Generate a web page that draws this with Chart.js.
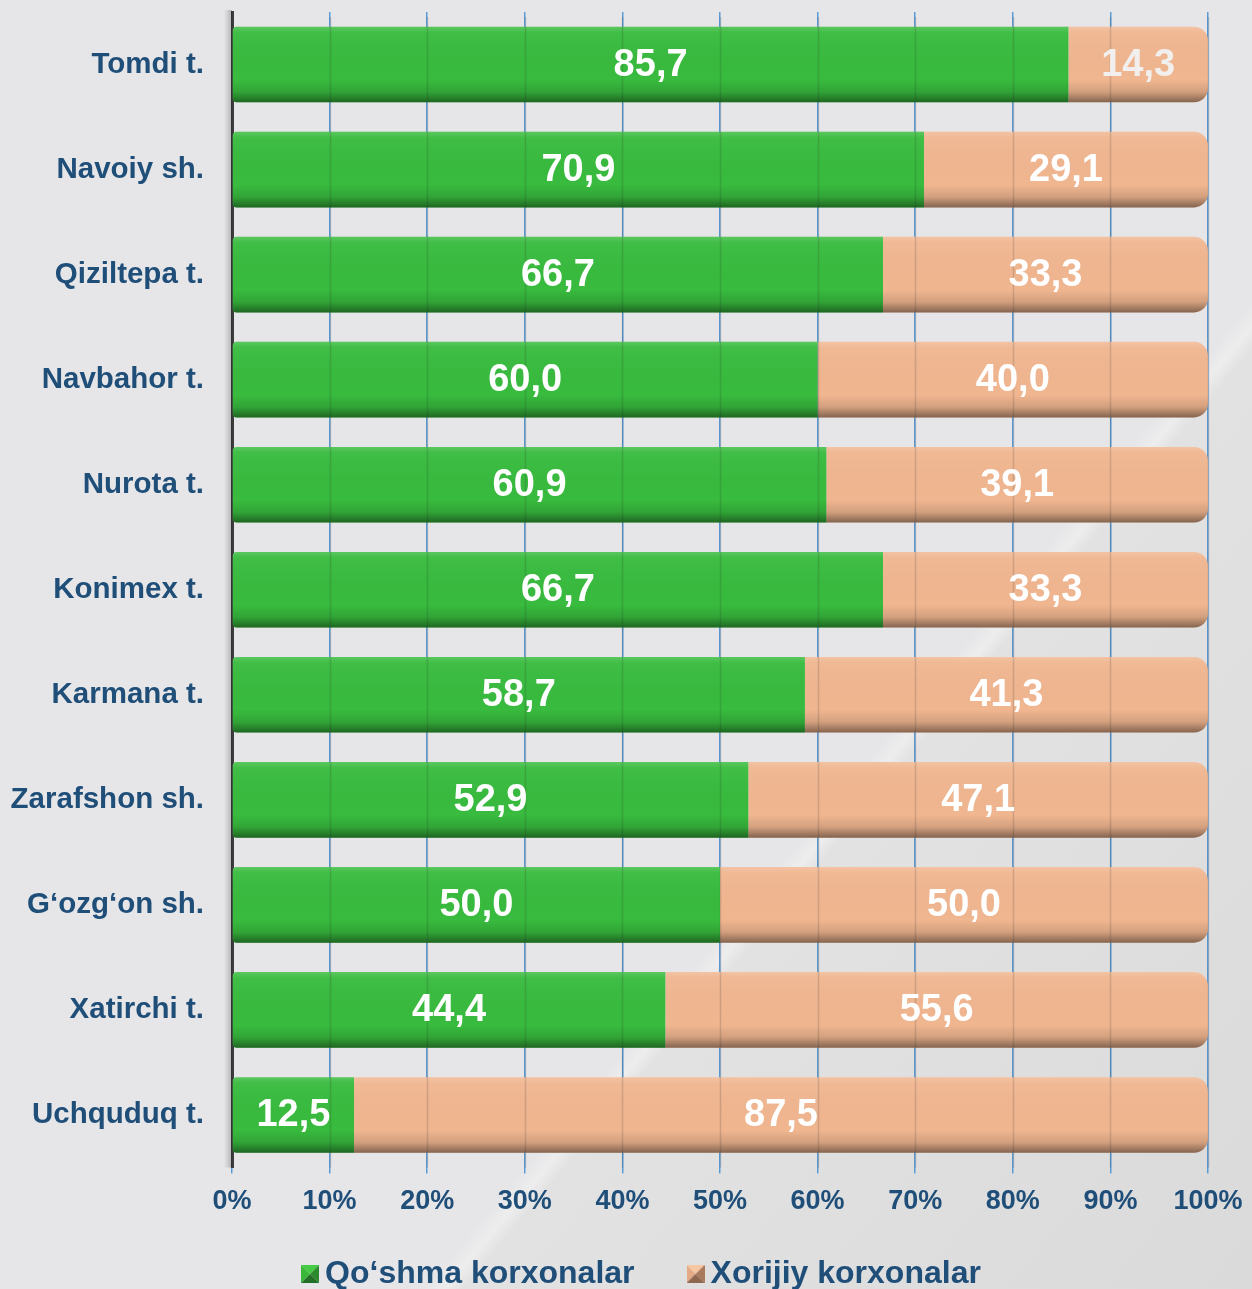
<!DOCTYPE html>
<html>
<head>
<meta charset="utf-8">
<script src="https://cdn.jsdelivr.net/npm/chart.js@4"></script>
<style>
  html, body { margin: 0; padding: 0; }
  body {
    width: 1252px; height: 1289px; overflow: hidden;
    background: linear-gradient(130deg, #e6e6e8 0%, #e6e6e8 64.5%, #ededee 65.4%, #e2e2e3 66.2%, #dadadb 100%);
  }
  #wrap { position: relative; width: 1252px; height: 1289px; }
  #myChart { display: block; }
</style>
</head>
<body>
<div id="wrap"><canvas id="myChart" width="1252" height="1289"></canvas></div>
<script>
// districts, top to bottom
const districts = ['Tomdi t.', 'Navoiy sh.', 'Qiziltepa t.', 'Navbahor t.', 'Nurota t.', 'Konimex t.',
  'Karmana t.', 'Zarafshon sh.', 'G‘ozg‘on sh.', 'Xatirchi t.', 'Uchquduq t.'];
const jointShares = [85.7, 70.9, 66.7, 60.0, 60.9, 66.7, 58.7, 52.9, 50.0, 44.4, 12.5];
const foreignShares = [14.3, 29.1, 33.3, 40.0, 39.1, 33.3, 41.3, 47.1, 50.0, 55.6, 87.5];
const seriesNames = ['Qo‘shma korxonalar', 'Xorijiy korxonalar'];
const percentTicks = [0, 10, 20, 30, 40, 50, 60, 70, 80, 90, 100];

const navy = '#1f4e79';
const fontFamily = "'Liberation Sans', Arial, sans-serif";

// little pyramid-shaded squares for the legend
function legendMarker(light, mid, dark, darkest) {
  var c = document.createElement('canvas');
  c.width = 18; c.height = 18;
  var g = c.getContext('2d');
  var tri = function (pts, col) {
    g.fillStyle = col;
    g.beginPath();
    g.moveTo(pts[0], pts[1]); g.lineTo(pts[2], pts[3]); g.lineTo(9, 9);
    g.closePath(); g.fill();
  };
  tri([0, 0, 18, 0], light);
  tri([0, 0, 0, 18], mid);
  tri([18, 0, 18, 18], dark);
  tri([0, 18, 18, 18], darkest);
  return c;
}
const markers = [
  legendMarker('#45cc45', '#3ab83a', '#2a8a2c', '#236f25'),
  legendMarker('#f6c7a2', '#e3aa85', '#a97a5c', '#8f6650'),
];

// dark wall line on the left of the plot with a soft shadow
const axisWall = {
  id: 'axisWall',
  beforeDatasetsDraw(chart) {
    var ctx = chart.ctx;
    var a = chart.chartArea;
    ctx.save();
    var g = ctx.createLinearGradient(a.left - 8, 0, a.left, 0);
    g.addColorStop(0, 'rgba(0,0,0,0)');
    g.addColorStop(1, 'rgba(0,0,0,0.22)');
    ctx.fillStyle = g;
    ctx.fillRect(a.left - 8, a.top - 2, 8, a.bottom - a.top + 2);
    ctx.restore();
  }
};

// 3D-ish shading on the bars + grid seen through them
const barShading = {
  id: 'barShading',
  afterDatasetsDraw(chart) {
    var ctx = chart.ctx;
    var area = chart.chartArea;
    ctx.save();
    chart.data.datasets.forEach(function (ds, i) {
      chart.getDatasetMeta(i).data.forEach(function (bar) {
        var p = bar.getProps(['x', 'y', 'base', 'height'], true);
        var top = p.y - p.height / 2;
        var left = Math.min(p.base, p.x);
        var w = Math.abs(p.x - p.base);
        var g = ctx.createLinearGradient(0, top, 0, top + p.height);
        g.addColorStop(0, 'rgba(255,255,255,0.18)');
        g.addColorStop(0.08, 'rgba(255,255,255,0.04)');
        g.addColorStop(0.7, 'rgba(0,0,0,0)');
        g.addColorStop(0.86, 'rgba(0,0,0,0.12)');
        g.addColorStop(1, 'rgba(0,0,0,0.45)');
        ctx.fillStyle = g;
        ctx.beginPath();
        ctx.roundRect(left, top, w, p.height, i === 1 ? [0, 14, 14, 0] : [4, 0, 0, 4]);
        ctx.fill();
      });
    });
    // faint grid lines over the bars
    var xs = chart.scales.x;
    ctx.strokeStyle = 'rgba(40,40,40,0.16)';
    ctx.lineWidth = 1.5;
    percentTicks.forEach(function (v) {
      if (v === 0) return;
      var px = Math.round(xs.getPixelForValue(v)) + 0.5;
      ctx.beginPath();
      ctx.moveTo(px, area.top + 5);
      ctx.lineTo(px, area.bottom);
      ctx.stroke();
    });
    ctx.restore();
  }
};

// value labels centred in each segment
const valueLabels = {
  id: 'valueLabels',
  afterDatasetsDraw(chart) {
    var ctx = chart.ctx;
    ctx.save();
    ctx.font = 'bold 38px ' + fontFamily;
    ctx.textAlign = 'center';
    ctx.textBaseline = 'middle';
    chart.data.datasets.forEach(function (ds, i) {
      chart.getDatasetMeta(i).data.forEach(function (bar, j) {
        var p = bar.getProps(['x', 'y', 'base'], true);
        ctx.fillStyle = (i === 1 && j === 0) ? '#f2f0ee' : '#ffffff';
        ctx.fillText(ds.data[j].toFixed(1).replace('.', ','), (p.x + p.base) / 2, p.y + 1);
      });
    });
    ctx.restore();
  }
};

// legend row under the axis
const bottomLegend = {
  id: 'bottomLegend',
  afterDraw(chart) {
    var ctx = chart.ctx;
    var gapBox = 6, gapItem = 52, box = 18, cy = 1273;
    ctx.save();
    ctx.font = 'bold 32px ' + fontFamily;
    ctx.textBaseline = 'middle';
    ctx.fillStyle = navy;
    var names = chart.data.datasets.map(function (ds) { return ds.label; });
    var widths = names.map(function (n) { return ctx.measureText(n).width; });
    var total = widths.reduce(function (s, w) { return s + w + box + gapBox; }, 0) + gapItem * (names.length - 1);
    var x = 641 - total / 2;
    names.forEach(function (n, k) {
      ctx.drawImage(markers[k], x, cy - 8, box, box);
      x += box + gapBox;
      ctx.fillText(n, x, cy + 1);
      x += widths[k] + gapItem;
    });
    ctx.restore();
  }
};

var ctx = document.getElementById('myChart').getContext('2d');
var myChart = new Chart(ctx, {
  type: 'bar',
  data: {
    labels: districts,
    datasets: [
      {
        label: seriesNames[0],
        data: jointShares,
        backgroundColor: '#38bb3e',
        borderRadius: { topLeft: 4, bottomLeft: 4, topRight: 0, bottomRight: 0 },
        borderSkipped: false,
        barPercentage: 0.72,
        categoryPercentage: 1,
      },
      {
        label: seriesNames[1],
        data: foreignShares,
        backgroundColor: '#f0b690',
        borderRadius: { topLeft: 0, bottomLeft: 0, topRight: 14, bottomRight: 14 },
        borderSkipped: false,
        barPercentage: 0.72,
        categoryPercentage: 1,
      },
    ],
  },
  options: {
    indexAxis: 'y',
    responsive: false,
    animation: false,
    layout: { padding: { left: 0, right: 44, top: 12, bottom: 0 } },
    scales: {
      x: {
        stacked: true,
        min: 0,
        max: 100,
        afterBuildTicks: function (scale) {
          scale.ticks = percentTicks.map(function (v) { return { value: v }; });
        },
        afterFit: function (scale) {
          scale.height = 121.5;
          scale.paddingLeft = 0;
          scale.paddingRight = 0;
        },
        grid: { color: '#5b9bd5', lineWidth: 1.5, tickLength: 6 },
        border: { display: false },
        ticks: {
          padding: 12,
          color: navy,
          font: { size: 27, weight: 'bold', family: fontFamily },
          callback: function (value) { return value + '%'; },
          maxRotation: 0,
        },
      },
      y: {
        stacked: true,
        afterFit: function (scale) {
          scale.width = 232;
          scale.paddingTop = 0;
          scale.paddingBottom = 0;
        },
        grid: { display: false, drawTicks: false },
        border: { color: '#3c3c3c', width: 3 },
        ticks: {
          padding: 28,
          color: navy,
          font: { size: 29.5, weight: 'bold', family: fontFamily },
        },
      },
    },
    plugins: {
      tooltip: { enabled: false },
      legend: { display: false },
    },
  },
  plugins: [axisWall, barShading, valueLabels, bottomLegend],
});
</script>
</body>
</html>
